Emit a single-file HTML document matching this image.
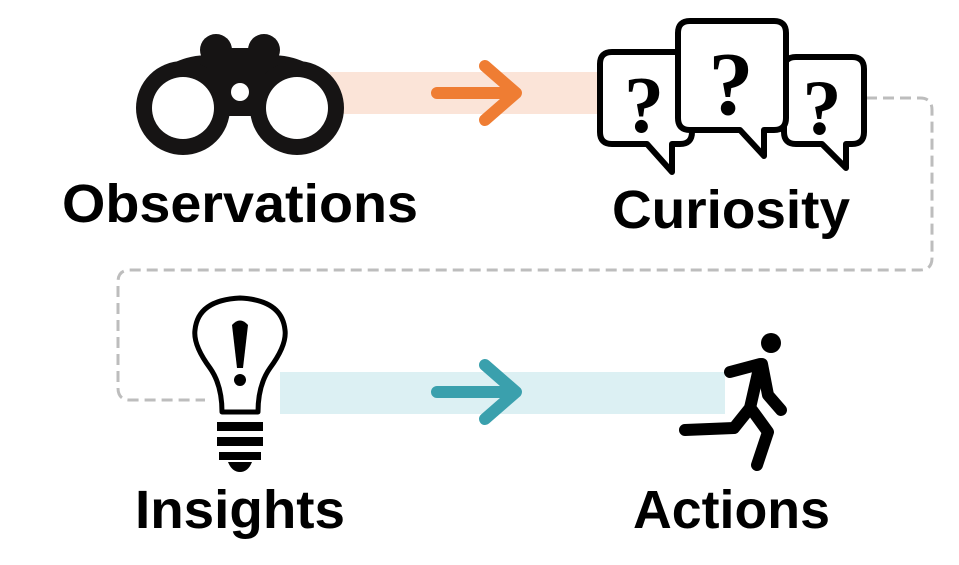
<!DOCTYPE html>
<html><head><style>html,body{margin:0;padding:0;background:#fff;}svg{display:block}</style></head>
<body>
<svg width="959" height="565" viewBox="0 0 959 565" xmlns="http://www.w3.org/2000/svg">
<rect width="959" height="565" fill="#fff"/>
<path d="M866 98 H920 Q932 98 932 110 V258 Q932 270 920 270 H130 Q118 270 118 282 V388 Q118 400 130 400 H205" fill="none" stroke="#bdbdbd" stroke-width="3" stroke-dasharray="11 6"/>
<rect x="330" y="72" width="275" height="42" fill="#fbe4d8"/>
<rect x="280" y="372" width="445" height="42" fill="#dcf0f3"/>
<g fill="none" stroke="#ef7d33" stroke-width="12" stroke-linecap="round" stroke-linejoin="round">
<path d="M437 93 H515 M485 66 L516 93 L485 120"/></g>
<g fill="none" stroke="#3aa0ad" stroke-width="12" stroke-linecap="round" stroke-linejoin="round">
<path d="M437 392 H515 M485 365 L516 392 L485 419"/></g>
<g fill="#161414">
<circle cx="216" cy="50" r="16"/><circle cx="264" cy="50" r="16"/>
<path d="M148 85 Q170 55 210 55 L270 55 Q310 55 332 85 L335 110 L145 110 Z"/>
<circle cx="183" cy="108" r="47"/><circle cx="297" cy="108" r="47"/>
<rect x="215" y="48" width="50" height="68"/>
</g>
<g fill="#fff"><circle cx="183" cy="108" r="31"/><circle cx="297" cy="108" r="31"/><circle cx="240" cy="92" r="9"/></g>
<g stroke="#000" stroke-width="6" fill="#fff" stroke-linejoin="round">
<path d="M612 52 H680 Q692 52 692 64 V132 Q692 144 680 144 H672 L672 172 L647 144 H612 Q600 144 600 132 V64 Q600 52 612 52 Z"/>
<path d="M796 57 H852 Q864 57 864 69 V132 Q864 144 852 144 H846 L846 168 L822 144 H796 Q784 144 784 132 V69 Q784 57 796 57 Z"/>
<path d="M690 21 H774 Q786 21 786 33 V118 Q786 130 774 130 H764 L764 156 L740 130 H690 Q678 130 678 118 V33 Q678 21 690 21 Z"/>
</g>
<g font-family="Liberation Serif, serif" font-weight="bold" fill="#000" text-anchor="middle">
<text x="644" y="132" font-size="80">?</text>
<text x="731" y="114" font-size="90">?</text>
<text x="822" y="134" font-size="78">?</text>
</g>
<path d="M222 412 Q222 385 210 368 Q193 345 195 330 Q198 300 240 298 Q282 300 285 330 Q287 345 270 368 Q258 385 258 412 Z" fill="#fff" stroke="#000" stroke-width="5" stroke-linejoin="round"/>
<g fill="#000">
<rect x="217" y="422" width="46" height="9"/><rect x="217" y="437" width="46" height="9"/><rect x="219" y="452" width="42" height="8"/>
<path d="M228 462 H252 Q248 472 240 472 Q232 472 228 462Z"/>
<path d="M232 325 Q240 316 248 325 L243 368 H237 Z"/><circle cx="240" cy="380" r="6"/>
</g>
<g stroke="#000" stroke-width="12" stroke-linecap="round" stroke-linejoin="round" fill="none">
<path d="M730 372 L760 364 L750 408"/>
<path d="M762 364 L768 395 L781 410"/>
<path d="M750 408 L734 428 L685 430"/>
<path d="M752 410 L768 432 L757 465"/>
</g>
<circle cx="771" cy="343" r="10" fill="#000"/>
<g font-family="Liberation Sans, sans-serif" font-weight="bold" fill="#000" font-size="54">
<text x="62" y="222" textLength="356" lengthAdjust="spacingAndGlyphs">Observations</text>
<text x="612" y="228" textLength="238" lengthAdjust="spacingAndGlyphs">Curiosity</text>
<text x="135" y="528" textLength="210" lengthAdjust="spacingAndGlyphs">Insights</text>
<text x="633" y="528" textLength="197" lengthAdjust="spacingAndGlyphs">Actions</text>
</g>
</svg>
</body></html>
